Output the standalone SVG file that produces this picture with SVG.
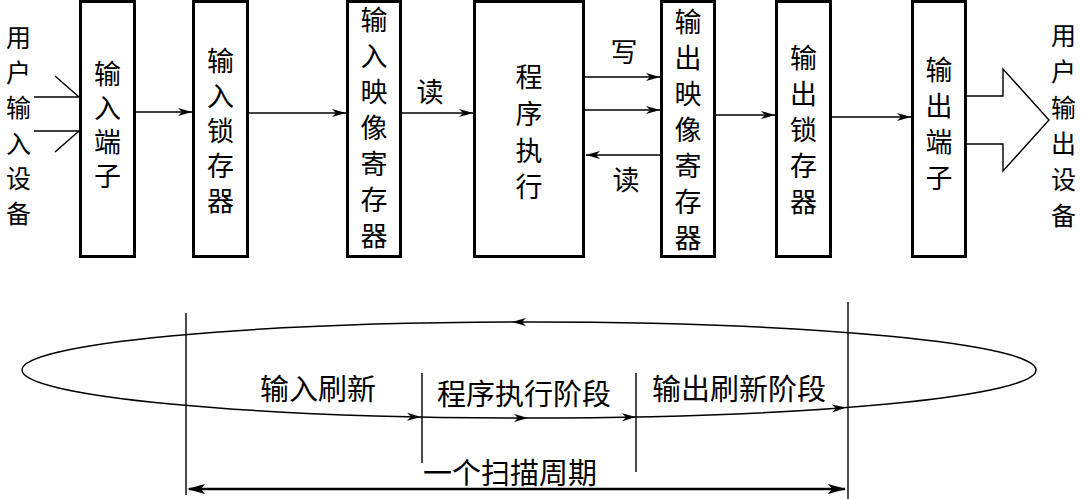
<svg xmlns="http://www.w3.org/2000/svg" width="1082" height="499" viewBox="0 0 1082 499">
<style>
.box{fill:#fff;stroke:#000;stroke-width:3}
.ln{fill:none;stroke:#000;stroke-width:1.4}
.t{font-family:"Noto Sans CJK SC","Noto Sans CJK JP",sans-serif;font-size:27px;fill:#000;text-anchor:middle;dominant-baseline:central}
.v{font-family:"Noto Sans CJK SC","Noto Sans CJK JP",sans-serif;font-size:27px;fill:#000;writing-mode:vertical-rl;text-anchor:start}
.vs{font-family:"Noto Sans CJK SC","Noto Sans CJK JP",sans-serif;font-size:25px;fill:#000;writing-mode:vertical-rl;text-anchor:start}
.tb{font-family:"Noto Sans CJK SC","Noto Sans CJK JP",sans-serif;font-size:29px;fill:#000}
</style>
<defs>
<marker id="ah" markerUnits="userSpaceOnUse" markerWidth="16" markerHeight="10" refX="14" refY="4" orient="auto">
<path d="M0,0 L14,4 L0,8 L4,4 Z" fill="#000"/>
</marker>
<path id="head" d="M-14,-4 L0,0 L-14,4 L-10,0 Z" fill="#000"/>
</defs>

<g id="n-user-in">
<text class="vs" x="18.5" y="24.5" letter-spacing="10.4">用户输入设备</text>
</g>
<g id="n-in-term">
<rect class="box" x="80.5" y="1.5" width="54" height="255"/>
<text class="v" x="107.5" y="60.5" letter-spacing="7">输入端子</text>
</g>
<g id="n-in-latch">
<rect class="box" x="193.5" y="1.5" width="54" height="255"/>
<text class="v" x="220.5" y="47.5" letter-spacing="8">输入锁存器</text>
</g>
<g id="n-in-img">
<rect class="box" x="347.5" y="1.5" width="53" height="255"/>
<text class="v" x="374" y="6.5" letter-spacing="9">输入映像寄存器</text>
</g>
<g id="n-prog">
<rect class="box" x="474.5" y="1.5" width="109" height="255"/>
<text class="v" x="529" y="63.5" letter-spacing="9.7">程序执行</text>
</g>
<g id="n-out-img">
<rect class="box" x="661.5" y="1.5" width="53" height="255"/>
<text class="v" x="688" y="8.5" letter-spacing="9">输出映像寄存器</text>
</g>
<g id="n-out-latch">
<rect class="box" x="776.5" y="1.5" width="54" height="255"/>
<text class="v" x="803.5" y="44.5" letter-spacing="9">输出锁存器</text>
</g>
<g id="n-out-term">
<rect class="box" x="912.5" y="1.5" width="53" height="255"/>
<text class="v" x="939" y="56.5" letter-spacing="9">输出端子</text>
</g>
<g id="n-user-out">
<text class="vs" x="1063.5" y="22.5" letter-spacing="11">用户输出设备</text>
</g>

<g id="connectors">
<path class="ln" d="M34,97 H79 M34,131 H79 M55,76 L79,97 M55,152 L79,131"/>
<line class="ln" x1="136" y1="112" x2="192" y2="112" marker-end="url(#ah)"/>
<line class="ln" x1="249" y1="113" x2="346" y2="113" marker-end="url(#ah)"/>
<line class="ln" x1="402" y1="113" x2="473" y2="113" marker-end="url(#ah)"/>
<line class="ln" x1="585" y1="77" x2="660" y2="77" marker-end="url(#ah)"/>
<line class="ln" x1="585" y1="110" x2="660" y2="110" marker-end="url(#ah)"/>
<line class="ln" x1="660" y1="155" x2="586" y2="155" marker-end="url(#ah)"/>
<line class="ln" x1="716" y1="115" x2="775" y2="115" marker-end="url(#ah)"/>
<line class="ln" x1="832" y1="117" x2="911" y2="117" marker-end="url(#ah)"/>
<path class="ln" d="M967,96 H1003 V69 L1049,120 L1003,171 V144 H967"/>
<text class="t" x="430" y="90">读</text>
<text class="t" x="624" y="50">写</text>
<text class="t" x="626" y="178">读</text>
</g>

<g id="cycle">
<ellipse cx="529" cy="370" rx="507" ry="48" fill="none" stroke="#000" stroke-width="1.5"/>
<use href="#head" transform="translate(512,322) rotate(180)"/>
<use href="#head" transform="translate(421,417) rotate(1.2)"/>
<use href="#head" transform="translate(528,418)"/>
<use href="#head" transform="translate(636,417) rotate(-1.2)"/>
<use href="#head" transform="translate(846,407.5) rotate(-4.4)"/>
<path class="ln" d="M186,313 V495 M848,302 V499 M422,373 V463 M636,373 V472"/>
<line x1="189" y1="489" x2="845" y2="489" stroke="#000" stroke-width="2.5"/>
<path d="M187,489 L205,484 L201,489 L205,494 Z" fill="#000"/>
<path d="M846,489 L828,484 L832,489 L828,494 Z" fill="#000"/>
<text class="tb" x="318" y="400" text-anchor="middle">输入刷新</text>
<text class="tb" x="524" y="405" text-anchor="middle">程序执行阶段</text>
<text class="tb" x="739" y="400" text-anchor="middle">输出刷新阶段</text>
<text class="tb" x="510" y="484" text-anchor="middle">一个扫描周期</text>
</g>
</svg>
